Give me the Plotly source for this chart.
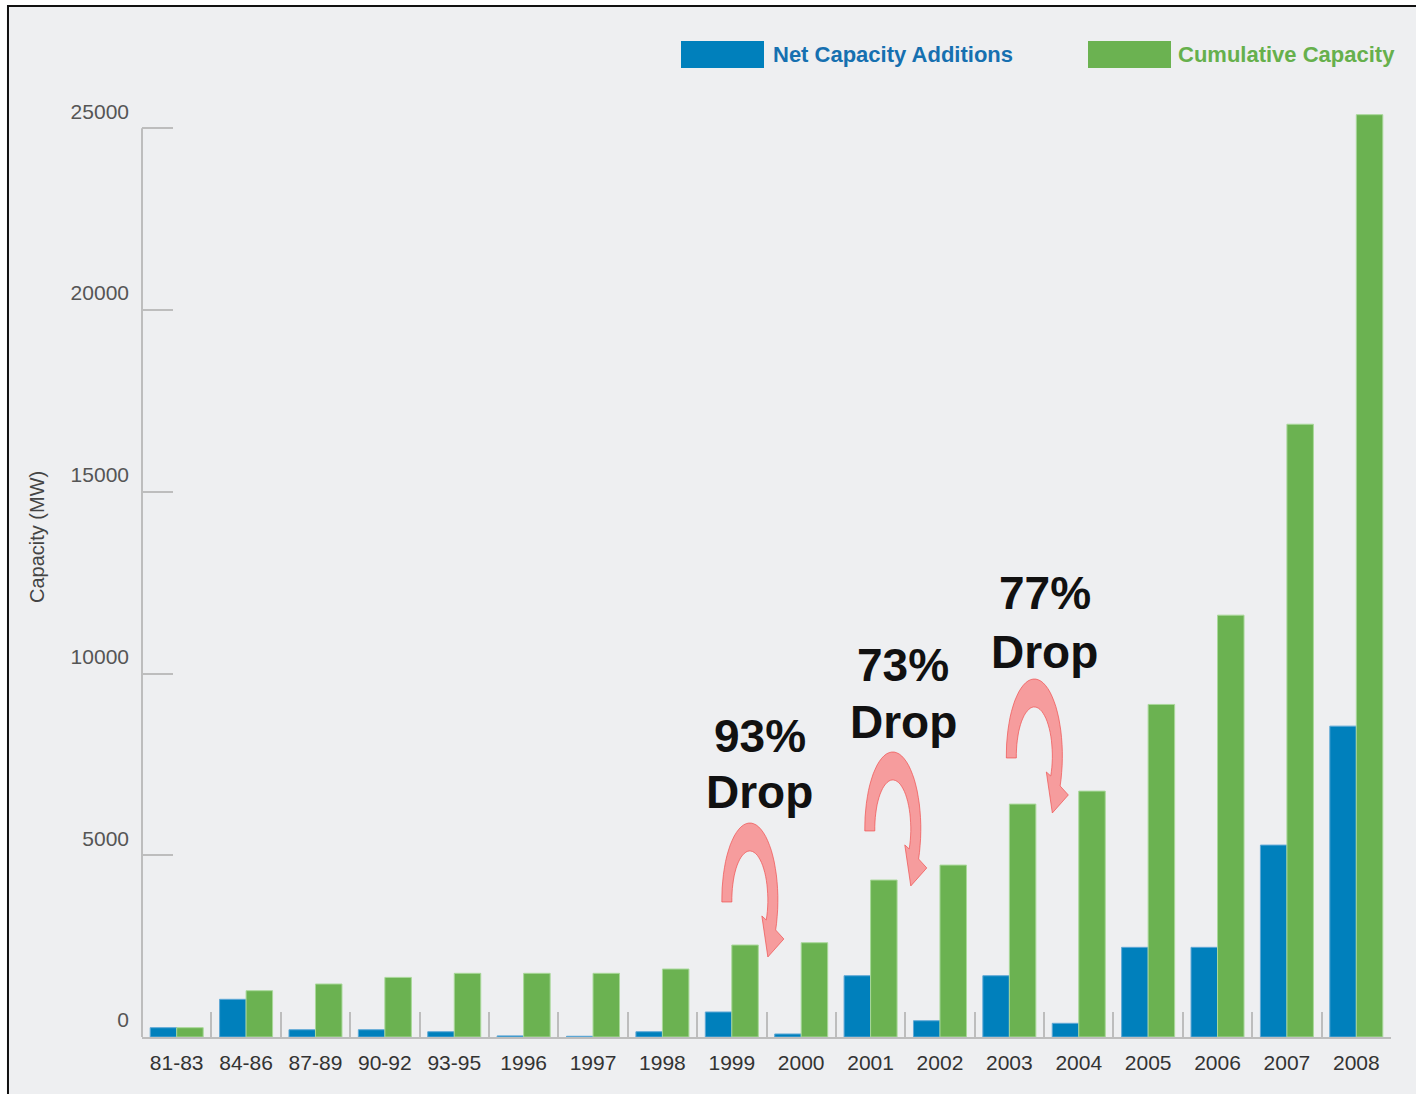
import numpy as np
import plotly.graph_objects as go

# ---------------- data ----------------
categories = ["81-83", "84-86", "87-89", "90-92", "93-95", "1996", "1997", "1998",
              "1999", "2000", "2001", "2002", "2003", "2004", "2005", "2006", "2007", "2008"]
net_additions = [256, 1037, 200, 200, 145, 30, 20, 145, 688, 83,
                 1686, 448, 1686, 377, 2467, 2467, 5280, 8553]
cumulative = [256, 1274, 1458, 1640, 1752, 1752, 1752, 1870, 2530, 2594,
              4318, 4730, 6408, 6765, 9150, 11606, 16859, 25376]
y_ticks = [0, 5000, 10000, 15000, 20000, 25000]
drop_pct = ["93%", "73%", "77%"]

# ---------------- style ----------------
BLUE = "#0080BC"
GREEN = "#6BB251"
AXIS = "#BDBDBD"
BG = "#EEEFF1"

fig = go.Figure()
fig.add_trace(go.Bar(x=categories, y=net_additions, name="Net Capacity Additions",
                     marker=dict(color=BLUE, line=dict(color="#5FA8D6", width=1))))
fig.add_trace(go.Bar(x=categories, y=cumulative, name="Cumulative Capacity",
                     marker=dict(color=GREEN, line=dict(color="#A9D89A", width=1))))


# curved arrow (decorative), pixel offsets relative to an anchor
def arrow_path():
    rxo, ryo, rxi, ryi = 28, 77, 18, 49
    pts = []
    a0 = np.pi + np.arcsin(2 / ryo)
    a1 = -np.arcsin(30 / ryo)
    for a in np.linspace(a0, a1, 40):
        pts.append((rxo * np.cos(a), ryo * np.sin(a)))
    pts += [(34, -39), (18, -57), (12, -16)]
    b0 = -np.arcsin(20 / ryi)
    b1 = np.pi + np.arcsin(2 / ryi)
    for a in np.linspace(b0, b1, 40):
        pts.append((rxi * np.cos(a), ryi * np.sin(a)))
    return "M " + " L ".join(f"{x:.1f},{y:.1f}" for x, y in pts) + " Z"


path = arrow_path()
arrow_anchors = [(8.26, 3770), (10.32, 5724), (12.36, 7732)]
shapes = [dict(type="rect", xref="paper", yref="paper", x0=-0.1073, x1=1.2, y0=-0.3, y1=1.091,
               fillcolor=BG, line=dict(color="#111111", width=2), layer="below")]
# y axis line only up to the top tick
shapes.append(dict(type="line", xref="paper", yref="y", x0=0, x1=0, y0=0, y1=y_ticks[-1],
                   line=dict(color=AXIS, width=2)))
for ax_, ay_ in arrow_anchors:
    shapes.append(dict(type="path", xref="x", yref="y", xsizemode="pixel", ysizemode="pixel",
                       xanchor=ax_, yanchor=ay_, path=path,
                       fillcolor="rgba(250,105,105,0.62)",
                       line=dict(color="rgba(240,80,80,0.7)", width=1)))

# legend (manual, large swatches)
shapes.append(dict(type="rect", xref="paper", yref="paper", x0=(681 - 142) / 1249, x1=(764 - 142) / 1249,
                   y0=1.0254, y1=1.054, fillcolor=BLUE, line=dict(width=0)))
shapes.append(dict(type="rect", xref="paper", yref="paper", x0=(1088 - 142) / 1249, x1=(1171 - 142) / 1249,
                   y0=1.0254, y1=1.054, fillcolor=GREEN, line=dict(width=0)))

annotations = [
    dict(xref="paper", yref="paper", x=(771 - 142) / 1249, y=1.0397, xanchor="left", yanchor="middle",
         text="<b>Net Capacity Additions</b>", showarrow=False,
         font=dict(family="Liberation Sans, Arial", size=22, color="#1670B0")),
    dict(xref="paper", yref="paper", x=(1176 - 142) / 1249, y=1.0397, xanchor="left", yanchor="middle",
         text="<b>Cumulative Capacity</b>", showarrow=False,
         font=dict(family="Liberation Sans, Arial", size=22, color="#66B04C")),
    dict(xref="paper", yref="paper", x=(37 - 142) / 1249, y=1 - (537 - 92) / 945, textangle=-90,
         xanchor="center", yanchor="middle", text="Capacity (MW)", showarrow=False,
         font=dict(family="Liberation Sans, Arial", size=20, color="#444444")),
]
text_pos = [(8.4, 8283, 6742), (10.47, 10237, 8668), (12.51, 12218, 10594)]
for pct, (tx, ty1, ty2) in zip(drop_pct, text_pos):
    for t, ty in ((pct, ty1), ("Drop", ty2)):
        annotations.append(dict(xref="x", yref="y", x=tx, y=ty, text=f"<b>{t}</b>", showarrow=False,
                                xanchor="center", yanchor="middle",
                                font=dict(family="Liberation Sans, Arial", size=46, color="#111111")))

fig.update_layout(
    width=1416, height=1094,
    margin=dict(l=142, r=25, t=92, b=57),
    paper_bgcolor="white",
    plot_bgcolor="rgba(0,0,0,0)",
    barmode="group", bargap=0.236, bargroupgap=0,
    showlegend=False,
    shapes=shapes,
    annotations=annotations,
    xaxis=dict(
        type="category", range=[-0.5, 17.5],
        showline=True, linecolor=AXIS, linewidth=2,
        ticks="inside", tickson="boundaries", ticklen=25, tickcolor=AXIS, tickwidth=2,
        showgrid=False, zeroline=False,
        tickfont=dict(family="Liberation Sans, Arial", size=21, color="#333333"),
        ticklabelstandoff=6,
    ),
    yaxis=dict(
        range=[0, 26000],
        tickvals=y_ticks, ticktext=[str(v) for v in y_ticks],
        showline=False,
        ticks="inside", ticklen=31, tickcolor=AXIS, tickwidth=2,
        showgrid=False, zeroline=False,
        tickfont=dict(family="Liberation Sans, Arial", size=21, color="#555555"),
        ticklabelshift=-17, ticklabelstandoff=12,
    ),
)

fig.write_html("out.html")
